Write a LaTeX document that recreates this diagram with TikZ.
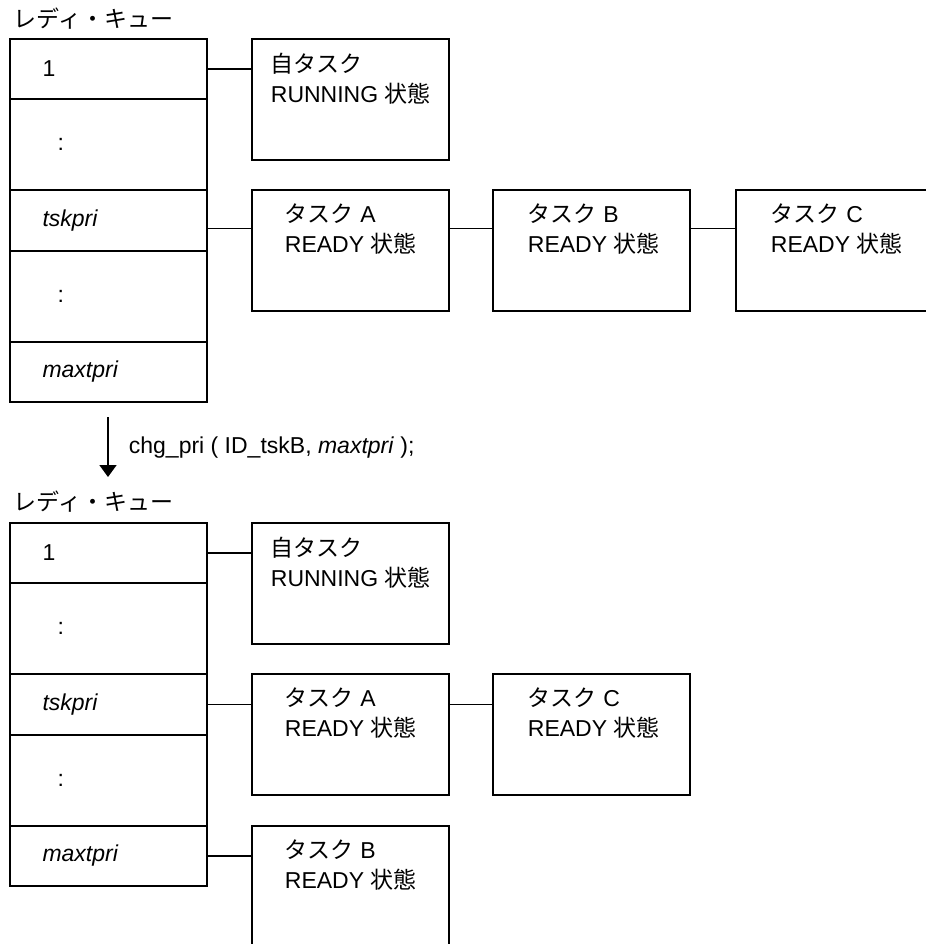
\documentclass[tikz,border=0pt]{standalone}
\usepackage{fontspec}
\setmainfont{Liberation Sans}
\newfontfamily\jp{Noto Sans CJK JP}
\usetikzlibrary{positioning,arrows.meta}

\begin{document}
\begin{tikzpicture}[
    x=0.5pt, y=-0.5pt,
    line width=0.9pt,
    font=\fontsize{11.5}{15}\selectfont,
    qcell/.style={rectangle, draw, outer sep=0pt, minimum width=98.5pt, text width=66pt, inner xsep=16pt, align=left},
    qshort/.style={qcell, minimum height=30pt},
    qtall/.style={qcell, minimum height=45.5pt},
    taskbox/.style={rectangle, draw, outer sep=0pt, anchor=north west, minimum width=98.5pt, minimum height=60.5pt},
    tasktext/.style={anchor=north west, inner sep=0pt, align=left},
    title/.style={anchor=west, inner sep=0pt}
]
\useasboundingbox (0,0) rectangle (926,944);

% before
\node[title] (toplabel) at (13,19) {{\jp レディ・キュー}};
\node[qshort, anchor=north west] (tq1) at (10,39) {1};
\node[qtall, below=0pt of tq1] (tq2) {\hspace{7.5pt}:};
\node[qshort, below=0pt of tq2, minimum height=30.5pt] (tq3) {\textit{tskpri}};
\node[qtall, below=0pt of tq3] (tq4) {\hspace{7.5pt}:};
\node[qshort, below=0pt of tq4] (tq5) {\textit{maxtpri}};

\node[taskbox] (trun) at (252,39) {};
\node[taskbox] (ta) at (252,190) {};
\node[taskbox] (tb) at (493,190) {};
\node[taskbox] (tc) at (736,190) {};
\node[tasktext] (truntx) at ([shift={(9pt,-6.5pt)}]trun.north west) {{\jp 自タスク}\\RUNNING {\jp 状態}};
\node[tasktext] (tatx) at ([shift={(16pt,-6.5pt)}]ta.north west) {{\jp タスク} A\\READY {\jp 状態}};
\node[tasktext] (tbtx) at ([shift={(17pt,-6.5pt)}]tb.north west) {{\jp タスク} B\\READY {\jp 状態}};
\node[tasktext] (tctx) at ([shift={(17pt,-6.5pt)}]tc.north west) {{\jp タスク} C\\READY {\jp 状態}};

\coordinate (tly) at ([yshift=-4pt]tq3.east);
\draw (tq1.east) -- (tq1.east -| trun.west);
\draw (tly) -- (tly -| ta.west);
\draw (tly -| ta.east) -- (tly -| tb.west);
\draw (tly -| tb.east) -- (tly -| tc.west);

% chg_pri
\coordinate (arrtop) at (108,417);
\coordinate (arrtip) at (108,477);
\draw[-{Triangle[width=8.5pt,length=6pt]}] (arrtop) -- (arrtip);
\node[title] (cmd) at (128,448) {chg\_pri ( ID\_tskB, \textit{maxtpri} );};

% after
\node[title] (botlabel) at (13,502) {{\jp レディ・キュー}};
\node[qshort, anchor=north west] (bq1) at (10,523) {1};
\node[qtall, below=0pt of bq1] (bq2) {\hspace{7.5pt}:};
\node[qshort, below=0pt of bq2, minimum height=30.5pt] (bq3) {\textit{tskpri}};
\node[qtall, below=0pt of bq3] (bq4) {\hspace{7.5pt}:};
\node[qshort, below=0pt of bq4] (bq5) {\textit{maxtpri}};

\node[taskbox] (brun) at (252,523) {};
\node[taskbox] (ba) at (252,674) {};
\node[taskbox] (bc) at (493,674) {};
\node[taskbox] (bb) at (252,826) {};
\node[tasktext] (bruntx) at ([shift={(9pt,-6.5pt)}]brun.north west) {{\jp 自タスク}\\RUNNING {\jp 状態}};
\node[tasktext] (batx) at ([shift={(16pt,-6.5pt)}]ba.north west) {{\jp タスク} A\\READY {\jp 状態}};
\node[tasktext] (bctx) at ([shift={(17pt,-6.5pt)}]bc.north west) {{\jp タスク} C\\READY {\jp 状態}};
\node[tasktext] (bbtx) at ([shift={(16pt,-6.5pt)}]bb.north west) {{\jp タスク} B\\READY {\jp 状態}};

\draw (bq1.east) -- (bq1.east -| brun.west);
\draw (bq3.east) -- (bq3.east -| ba.west);
\draw (bq3.east -| ba.east) -- (bq3.east -| bc.west);
\draw (bq5.east) -- (bq5.east -| bb.west);

\end{tikzpicture}
\end{document}
